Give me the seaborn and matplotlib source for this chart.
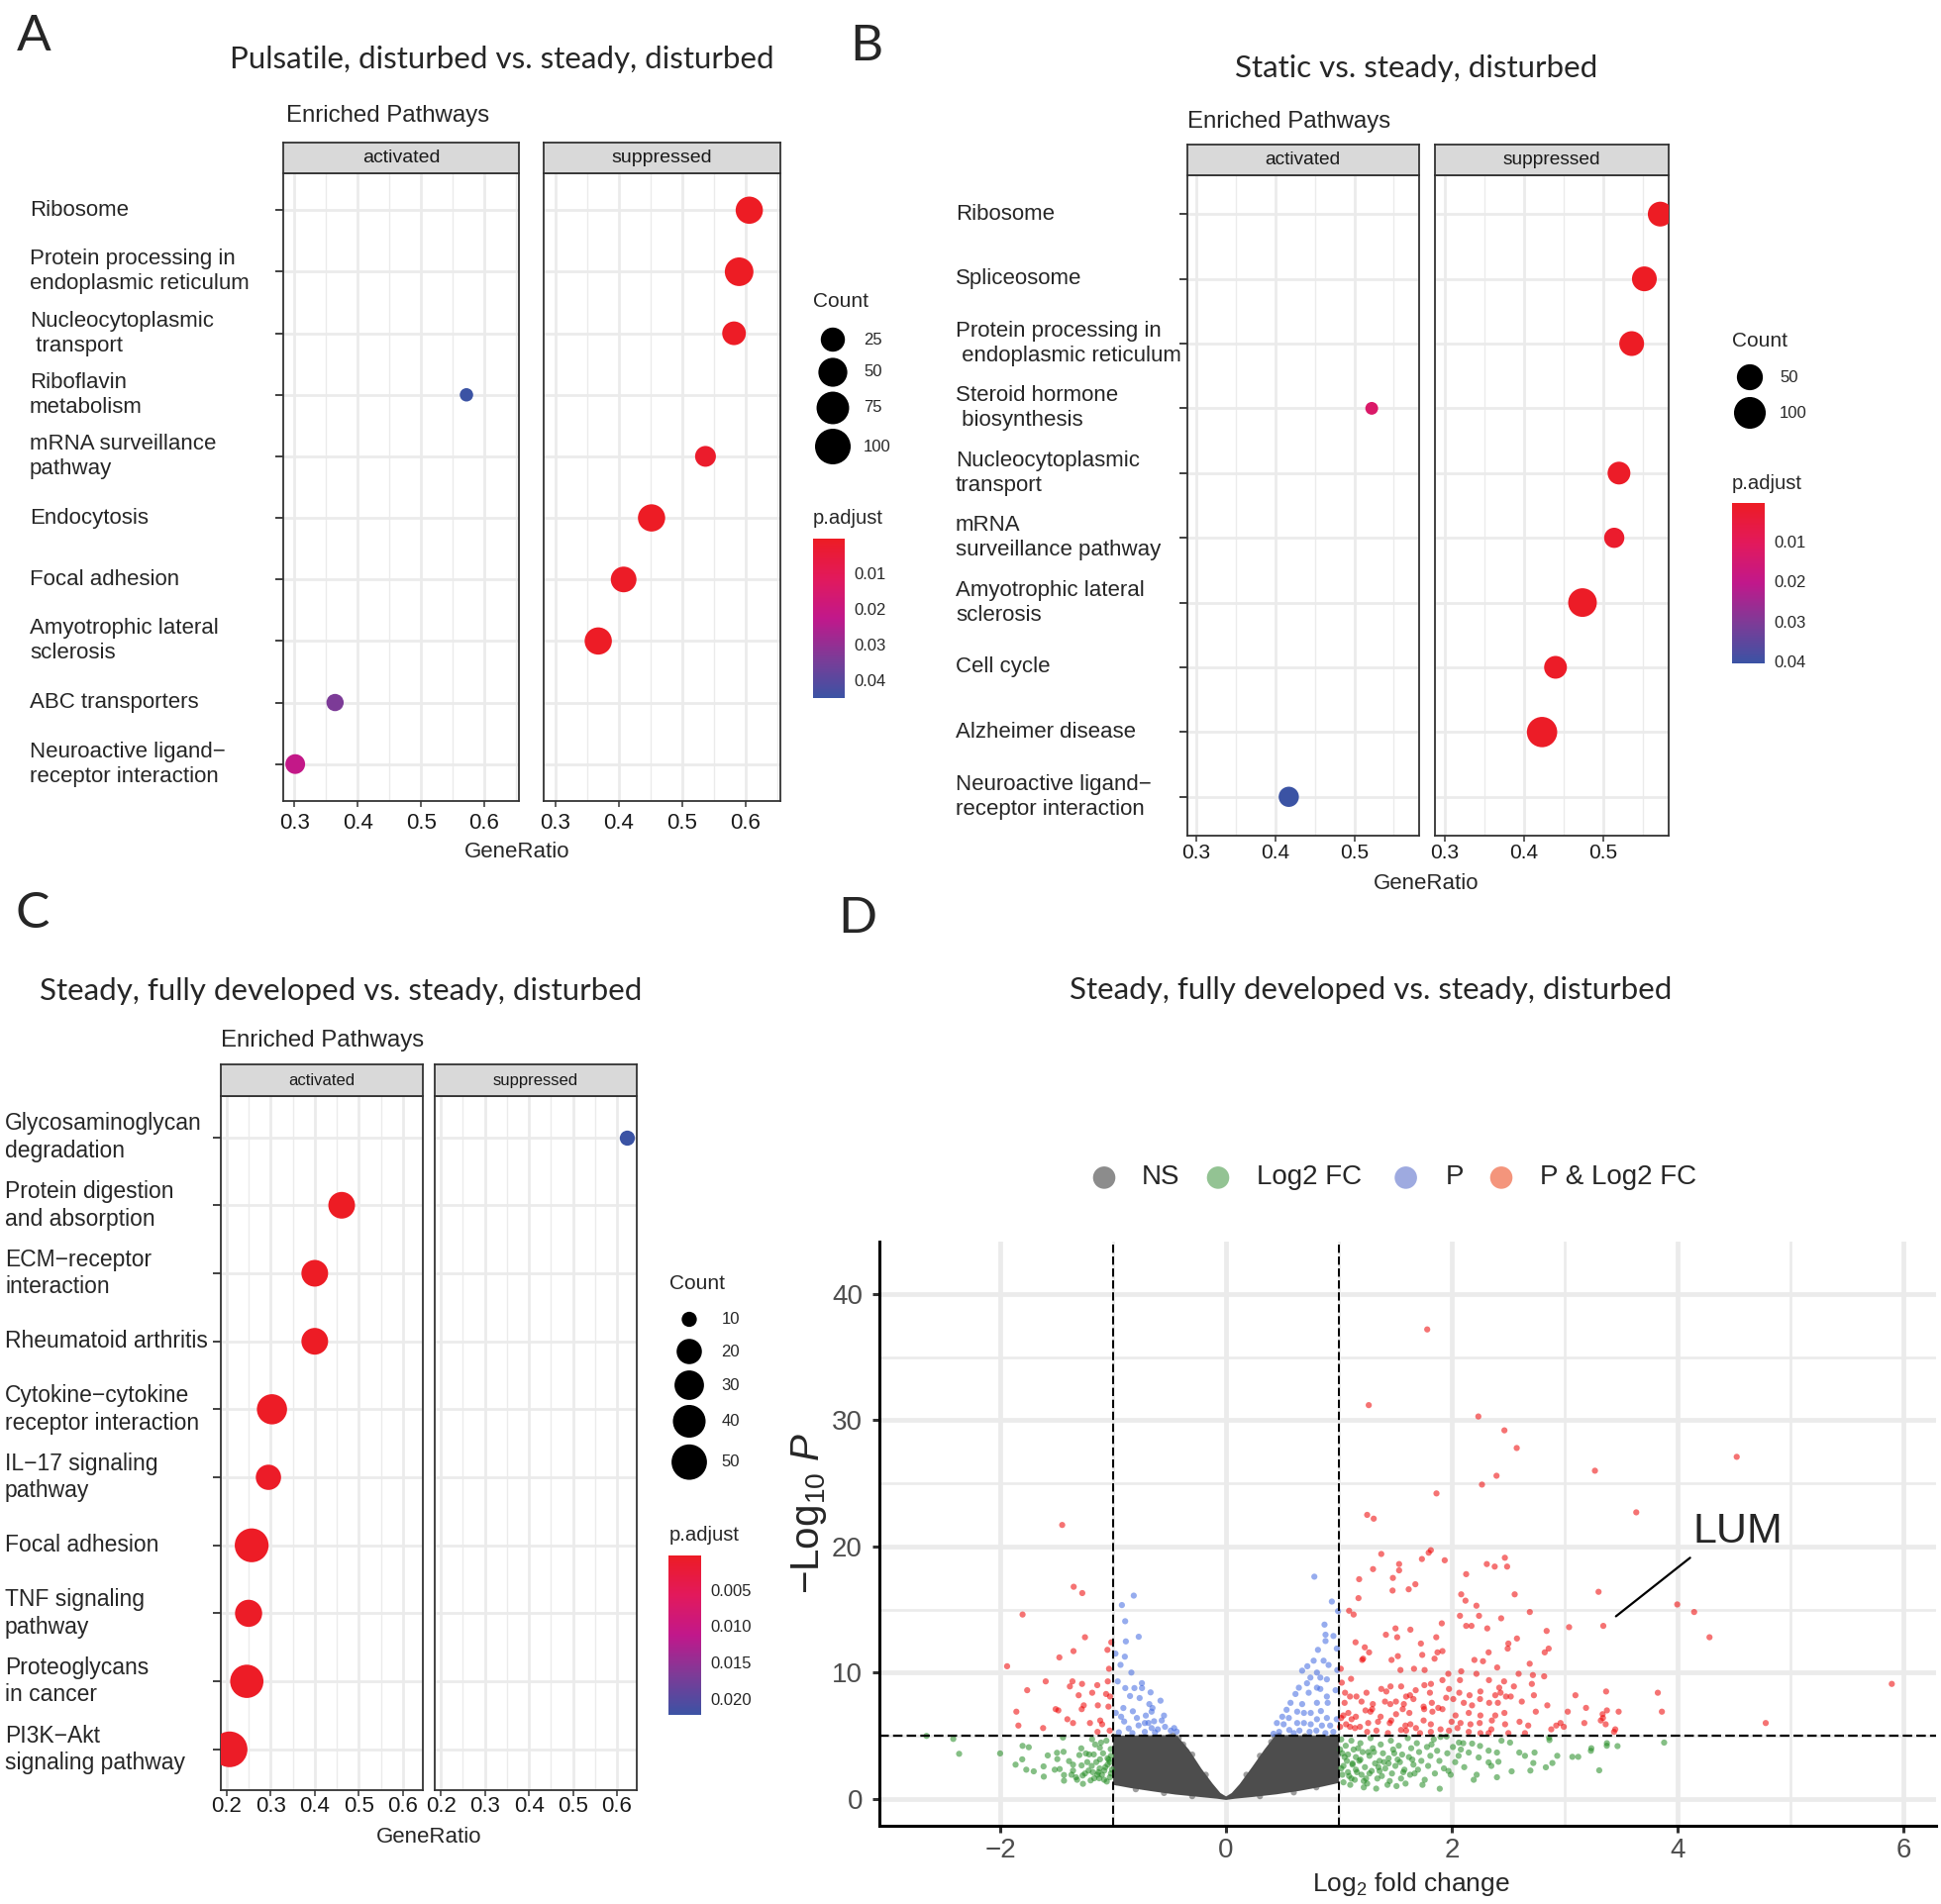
import numpy as np
import pandas as pd
import matplotlib
matplotlib.use("Agg")
import matplotlib.pyplot as plt
import matplotlib.transforms as mtransforms
from matplotlib.colors import LinearSegmentedColormap, Normalize
from matplotlib.cm import ScalarMappable
import seaborn as sns

# ---------------- panel A: pulsatile, disturbed vs. steady, disturbed ----------------
a_pathways = ["Ribosome", "Protein processing in\nendoplasmic reticulum", "Nucleocytoplasmic\n transport",
              "Riboflavin\nmetabolism", "mRNA surveillance\npathway", "Endocytosis", "Focal adhesion",
              "Amyotrophic lateral\nsclerosis", "ABC transporters", "Neuroactive ligand\u2212\nreceptor interaction"]
a_group = ["suppressed", "suppressed", "suppressed", "activated", "suppressed", "suppressed",
           "suppressed", "suppressed", "activated", "activated"]
a_ratio = [0.606, 0.590, 0.582, 0.572, 0.537, 0.452, 0.408, 0.368, 0.364, 0.301]
a_count = [40, 48, 23, 2, 13, 40, 32, 40, 5, 10]
a_padj = [0.0004, 0.0004, 0.0008, 0.045, 0.002, 0.0006, 0.001, 0.0008, 0.034, 0.022]

# ---------------- panel B: static vs. steady, disturbed ----------------
b_pathways = ["Ribosome", "Spliceosome", "Protein processing in\n endoplasmic reticulum",
              "Steroid hormone\n biosynthesis", "Nucleocytoplasmic\ntransport", "mRNA\nsurveillance pathway",
              "Amyotrophic lateral\nsclerosis", "Cell cycle", "Alzheimer disease",
              "Neuroactive ligand\u2212\nreceptor interaction"]
b_group = ["suppressed", "suppressed", "suppressed", "activated", "suppressed", "suppressed",
           "suppressed", "suppressed", "suppressed", "activated"]
b_ratio = [0.572, 0.552, 0.536, 0.522, 0.520, 0.514, 0.474, 0.440, 0.423, 0.417]
b_count = [42, 42, 42, 3, 30, 18, 71, 30, 86, 18]
b_padj = [0.0003, 0.0004, 0.0005, 0.013, 0.001, 0.002, 0.0008, 0.001, 0.0008, 0.0405]

# ---------------- panel C: steady, fully developed vs. steady, disturbed ----------------
c_pathways = ["Glycosaminoglycan\ndegradation", "Protein digestion\nand absorption", "ECM\u2212receptor\ninteraction",
              "Rheumatoid arthritis", "Cytokine\u2212cytokine\nreceptor interaction", "IL\u221217 signaling\npathway",
              "Focal adhesion", "TNF signaling\npathway", "Proteoglycans\nin cancer", "PI3K\u2212Akt\nsignaling pathway"]
c_group = ["suppressed"] + ["activated"] * 9
c_ratio = [0.623, 0.461, 0.400, 0.400, 0.303, 0.295, 0.257, 0.250, 0.246, 0.207]
c_count = [10, 23, 23, 23, 32, 20, 44, 24, 42, 51]
c_padj = [0.0223, 0.0002, 0.0003, 0.0003, 0.0004, 0.0006, 0.0004, 0.0005, 0.0004, 0.0005]

# ---------------- panel D: volcano ----------------
red_x = [-1.452, -1.350, -1.274, -1.803, -1.250, -1.017, -1.051, -1.352, -1.477, -1.940, -1.037, -1.598,
         -1.762, -1.361, -1.384, -1.276, -1.141, -1.048, -1.186, -1.306, -1.063, -1.028, -1.261, -1.136,
         -1.042, -1.510, -1.486, -1.279, -1.858, -1.406, -1.356, -1.840, -1.206, -1.115, -1.098, -1.621,
         -1.139, -1.031,
         1.782, 1.264, 2.235, 2.466, 2.575, 3.268, 4.524, 2.396, 2.267, 1.864, 1.250, 1.308, 3.634,
         1.814, 1.795, 1.375, 1.533, 1.533, 1.735, 1.937, 1.302, 1.179, 1.478, 1.677, 1.618, 1.475,
         1.173, 2.127, 2.310, 2.380, 2.470, 2.490, 2.557, 2.083, 2.121, 2.218, 3.300, 3.997, 4.147,
         4.283, 3.342, 1.090, 1.130, 2.072, 2.241, 2.437, 2.691, 2.314, 2.127, 2.174, 1.911, 3.039,
         2.840, 1.501, 1.633, 1.416, 1.516, 1.726, 1.862, 1.917, 1.873, 1.847, 1.147, 1.229, 1.267,
         1.214, 1.206, 1.738, 1.466, 1.522, 2.501, 2.495, 2.577, 2.326, 2.276, 2.200, 2.823, 2.858,
         2.402, 2.690, 1.545, 1.665, 1.759, 1.016, 1.969, 2.083, 2.218, 2.592, 2.718, 2.818, 1.025,
         1.107, 1.917, 2.072, 2.329, 2.463, 2.709, 1.757, 1.815, 1.975, 2.420, 1.375, 1.457, 1.551,
         1.630, 1.806, 1.595, 1.244, 1.155, 1.098, 1.054, 2.066, 2.157, 2.253, 2.385, 2.432, 2.522,
         2.727, 3.095, 3.367, 3.825, 5.898, 1.408, 1.455, 1.505, 1.575, 1.660, 1.823, 2.013, 2.106,
         2.179, 2.331, 2.408, 2.480, 2.846, 3.189, 3.374, 3.336, 1.235, 1.279, 1.294, 1.369, 1.506,
         1.565, 1.624, 1.755, 1.828, 1.917, 2.033, 2.150, 2.253, 2.385, 2.466, 2.744, 3.027, 1.083,
         1.039, 1.112, 1.998, 2.077, 2.165, 2.247, 2.355, 2.472, 1.259, 1.346, 1.463, 1.589, 1.633,
         1.682, 1.814, 1.063, 1.098, 1.142, 1.186, 2.677, 2.925, 2.963, 2.992, 3.174, 3.320, 3.363,
         2.881, 3.437, 1.332, 1.434, 1.595, 1.718, 1.814, 1.975, 2.253, 2.326, 2.501, 2.648, 3.478,
         3.861, 3.339, 3.448, 4.781, 1.30, 1.75, 1.95, 1.42, 1.20, 1.68, 1.88, 2.25, 2.62, 2.55, 1.05,
         1.15, 1.45, 1.75, 2.05, 2.35, 2.60, 1.90, 1.25, 1.55, 2.15, 1.01, 1.02]
red_y = [21.7, 16.8, 16.3, 14.6, 12.8, 12.4, 11.8, 11.7, 11.2, 10.5, 10.3, 9.3,
         8.6, 9.3, 8.9, 9.1, 9.0, 9.3, 8.4, 8.2, 8.3, 8.1, 7.4, 7.4,
         7.3, 7.1, 7.0, 7.1, 6.9, 6.3, 6.0, 5.8, 6.0, 6.2, 5.9, 5.6,
         5.3, 5.4,
         37.2, 31.2, 30.3, 29.2, 27.8, 26.0, 27.1, 25.6, 24.9, 24.2, 22.5, 22.2, 22.7,
         19.7, 19.5, 19.4, 18.6, 18.1, 19.0, 18.9, 18.2, 17.4, 17.5, 17.0, 16.6, 16.5,
         15.9, 17.8, 18.6, 18.4, 19.1, 18.4, 16.2, 16.2, 15.7, 15.3, 16.4, 15.4, 14.8,
         12.8, 13.7, 14.9, 14.6, 14.5, 14.5, 14.3, 14.8, 13.5, 13.7, 13.7, 13.9, 13.6,
         13.3, 13.5, 13.4, 13.0, 12.8, 12.3, 12.8, 11.7, 11.6, 11.1, 12.4, 12.0, 11.6,
         11.1, 11.0, 11.4, 11.0, 11.3, 12.3, 11.9, 12.7, 11.6, 10.9, 11.0, 11.6, 11.9,
         10.4, 10.7, 10.2, 10.3, 10.2, 10.3, 9.9, 10.1, 9.9, 9.9, 9.8, 9.7, 9.2,
         9.5, 9.4, 9.4, 9.4, 9.3, 9.1, 9.0, 9.1, 8.7, 8.8, 8.7, 8.9, 8.9,
         8.2, 8.4, 8.1, 8.4, 8.1, 8.1, 8.4, 8.4, 8.2, 8.5, 8.2, 8.4, 8.1,
         8.2, 8.2, 8.5, 8.4, 9.1, 7.7, 7.5, 7.7, 7.5, 7.9, 7.6, 7.9, 7.6,
         7.4, 7.6, 7.6, 8.1, 7.4, 7.2, 7.0, 6.7, 7.0, 6.9, 7.1, 6.5, 6.7,
         7.1, 6.8, 7.1, 6.9, 7.1, 6.6, 6.8, 6.6, 6.6, 6.8, 6.9, 6.9, 6.8,
         6.6, 6.3, 6.1, 6.0, 5.9, 6.0, 6.2, 5.9, 6.0, 6.1, 6.2, 5.8, 5.9,
         5.6, 5.9, 5.9, 5.7, 5.6, 5.7, 5.8, 5.8, 6.0, 5.7, 6.0, 6.2, 5.9,
         5.5, 5.3, 5.4, 5.2, 5.4, 5.2, 5.3, 5.4, 5.2, 5.2, 5.2, 5.2, 6.9,
         6.9, 6.4, 5.5, 6.0, 7.5, 7.3, 8.0, 8.5, 7.7, 8.6, 7.2, 7.9, 7.7, 8.9, 7.6,
         6.5, 6.0, 6.2, 5.6, 5.5, 6.1, 5.5, 5.3, 5.45, 5.3, 5.7, 6.4]

green_x = [-2.654, -2.417, -2.365, -2.002, -1.803, -1.748, -1.865, -1.806, -1.704, -1.617, -1.615, -1.580,
           -1.498, -1.440, -1.495, -1.518, -1.474, -1.436, -1.436, -1.445, -1.356, -1.356, -1.330, -1.283,
           -1.300, -1.242, -1.213, -1.280, -1.218, -1.268, -1.271, -1.187, -1.172, -1.118, -1.117, -1.108,
           -1.079, -1.057, -1.124, -1.168, -1.022, -1.020, -1.391, -1.370, -1.190, -1.100, -1.050, -1.150,
           -1.250, -1.030, -1.080, -1.200, -1.320, -1.060, -1.160, -1.010, -1.770, -1.040, -1.130,
           -1.03, -1.07, -1.12, -1.02, -1.09, -1.05, -1.14, -1.23, -1.18,
           1.900, 1.954, 2.063, 2.101, 2.180, 2.250, 2.440, 2.516, 2.598, 2.648, 2.733, 2.862, 2.865,
           2.934, 3.068, 3.120, 3.232, 3.373, 3.306, 2.891, 2.833, 2.696, 2.722, 2.326, 2.400, 2.413,
           2.326, 2.238, 2.150, 2.194, 2.400, 2.530, 1.893, 3.236, 3.374, 3.468, 3.881,
           1.02, 1.06, 1.03, 1.07, 1.02, 1.09, 1.04, 1.11, 1.13, 1.15, 1.12, 1.16, 1.14, 1.19, 1.21,
           1.18, 1.23, 1.20, 1.25, 1.28, 1.30, 1.27, 1.32, 1.29, 1.34, 1.37, 1.39, 1.36, 1.41, 1.38,
           1.43, 1.46, 1.48, 1.44, 1.50, 1.47, 1.53, 1.56, 1.54, 1.58, 1.55, 1.61, 1.64, 1.62, 1.66,
           1.63, 1.69, 1.71, 1.73, 1.70, 1.76, 1.78, 1.81, 1.79, 1.84, 1.87, 1.89, 1.93, 1.96, 2.01,
           2.03, 2.06, 2.11, 1.99, 1.85, 1.74, 1.59, 1.51, 1.33, 1.22, 1.10, 1.05, 1.08, 1.17, 1.26,
           1.35, 1.45, 1.52, 1.67, 1.82, 1.97, 2.08, 2.22, 2.35, 1.01, 1.12, 1.24,
           1.04, 1.08, 1.15, 1.19, 1.27, 1.31, 1.40, 1.49, 1.57, 1.65, 1.03, 1.11, 1.22, 1.36, 1.44]
green_y = [4.98, 4.74, 3.56, 3.59, 4.19, 4.08, 2.70, 3.12, 2.17, 2.56, 1.75, 3.43,
           3.64, 3.72, 3.14, 2.30, 2.35, 1.88, 1.43, 4.85, 2.70, 2.23, 1.70, 3.99,
           3.46, 3.59, 3.51, 2.64, 2.23, 1.18, 1.84, 4.71, 3.51, 4.04, 3.12, 4.45,
           2.23, 1.36, 1.62, 1.62, 3.93, 3.40, 2.98, 1.90, 2.60, 1.90, 2.70, 2.90,
           2.00, 1.70, 1.50, 1.45, 1.50, 4.60, 4.30, 2.30, 2.30, 3.10, 2.10,
           2.9, 2.5, 2.4, 2.0, 3.6, 3.2, 1.9, 2.9, 2.1,
           4.90, 4.93, 4.45, 4.40, 4.37, 4.18, 4.60, 4.45, 3.66, 3.40, 3.66, 4.85, 4.65,
           3.40, 3.32, 3.32, 3.80, 4.20, 2.25, 2.83, 2.49, 2.23, 2.83, 3.81, 3.66, 2.93,
           2.88, 3.27, 3.66, 1.50, 1.70, 2.17, 0.79, 4.00, 4.40, 4.17, 4.45,
           4.7, 4.2, 3.6, 3.0, 2.4, 1.8, 1.3, 4.6, 3.9, 3.3, 2.7, 2.1, 1.5, 4.4, 3.7,
           3.0, 2.5, 1.9, 1.2, 4.8, 4.0, 3.4, 2.8, 2.2, 1.6, 4.3, 3.6, 3.0, 2.4, 1.8,
           1.1, 4.6, 3.9, 3.2, 2.6, 2.0, 4.2, 3.5, 2.9, 2.3, 1.6, 4.8, 4.0, 3.3, 2.7,
           1.9, 4.4, 3.7, 3.0, 2.3, 1.5, 4.1, 3.4, 2.6, 4.7, 3.8, 3.0, 2.4, 3.6, 4.1,
           2.9, 3.4, 2.5, 1.9, 2.0, 1.1, 1.2, 1.0, 0.8, 0.9, 1.1, 3.3, 2.1, 4.0, 3.7,
           2.5, 1.4, 3.1, 2.0, 4.3, 2.2, 3.9, 1.9, 2.6, 3.9, 2.8, 1.6,
           2.6, 3.5, 2.3, 3.1, 2.0, 3.7, 2.9, 3.6, 2.1, 3.1, 1.9, 1.6, 1.4, 2.2, 2.8]

blue_x = [-0.818, -0.923, -0.894, -0.888, -0.774, -0.897, -0.935, -0.839, -0.746, -0.812, -0.893, -0.851,
          -0.766, -0.669, -0.581, -0.910, -0.826, -0.652, -0.711, -0.688, -0.638, -0.550, -0.977, -0.903,
          -0.862, -0.775, -0.605, -0.541, -0.950, -0.745, -0.680, -0.660, -0.438, -0.490, -0.720, -0.830,
          -0.630, -0.960, -0.980, -0.720, -0.790, -0.570, -0.660, -0.460, -0.930,
          0.782, 0.937, 0.992, 0.872, 0.881, 0.881, 0.951, 0.981, 0.814, 0.776, 0.864, 0.908, 0.720,
          0.674, 0.805, 0.747, 0.835, 0.893, 0.717, 0.645, 0.805, 0.835, 0.732, 0.893, 0.615, 0.571,
          0.674, 0.805, 0.900, 0.536, 0.630, 0.690, 0.750, 0.840, 0.498, 0.556, 0.805, 0.893, 0.450,
          0.510, 0.630, 0.690, 0.750, 0.849, 0.922, 0.470, 0.560, 0.650, 0.740, 0.800, 0.980, 0.970,
          0.985, 0.600, 0.420, 0.950, 0.880]
blue_y = [16.1, 15.35, 14.07, 12.47, 12.84, 11.26, 10.61, 10.0, 9.16, 8.77, 8.77, 8.14,
          7.98, 8.43, 7.77, 7.19, 6.93, 7.19, 6.59, 6.01, 6.14, 6.59, 6.80, 6.12,
          5.57, 5.81, 5.50, 5.70, 5.26, 8.77, 7.50, 6.90, 5.32, 5.40, 5.30, 5.20,
          5.25, 9.30, 11.5, 6.00, 6.40, 6.20, 5.60, 5.60, 6.50,
          17.6, 15.63, 14.87, 13.8, 13.0, 12.5, 12.9, 11.9, 11.8, 10.94, 10.94, 10.6, 10.5,
          10.15, 10.0, 9.6, 9.6, 9.46, 9.15, 8.8, 8.8, 8.7, 8.4, 8.1, 8.3, 7.6,
          7.5, 7.6, 7.6, 7.05, 6.9, 6.8, 6.8, 6.95, 6.5, 6.4, 6.3, 6.4, 6.0,
          5.9, 6.0, 6.0, 5.9, 5.8, 5.8, 5.3, 5.45, 5.4, 5.3, 5.4, 6.3, 8.6,
          10.2, 5.2, 5.15, 5.3, 5.2]

ns_x = [-0.98, -0.90, -0.75, -0.60, -0.50, -0.42, -0.38, -0.30, -0.18, 0.43, 0.55, 0.70, 0.85,
        0.97, 0.99, 0.98, -0.99, -0.97, -0.80, 0.80, 0.60, -0.55, 0.30, -0.30, 0.18, 0.30, 0.40,
        -0.47, 0.47, 0.92, 0.66, -0.86]
ns_y = [4.9, 4.6, 4.85, 4.7, 4.9, 4.8, 4.3, 3.5, 1.9, 4.9, 4.8, 4.95, 4.6,
        4.8, 3.5, 2.0, 2.5, 1.3, 0.75, 0.9, 0.5, 0.45, 0.2, 0.2, 1.9, 3.4, 4.5,
        5.0, 5.0, 3.2, 2.7, 3.9]

# outline of the saturated NS cloud (thousands of overlapping grey points)
ns_cloud_x = [-1.0, -0.44, -0.33, -0.22, -0.12, -0.05, 0.0, 0.05, 0.12, 0.23, 0.34, 0.44, 1.0, 1.0,
              0.85, 0.65, 0.45, 0.25, 0.08, 0.0, -0.08, -0.25, -0.45, -0.65, -0.85, -1.0]
ns_cloud_y = [5.0, 5.05, 3.9, 2.4, 1.2, 0.45, 0.18, 0.45, 1.15, 2.5, 3.9, 5.05, 5.0, 1.25,
              0.95, 0.62, 0.35, 0.15, 0.0, -0.1, 0.0, 0.15, 0.33, 0.58, 0.85, 1.1]

vol_groups = ["NS", "Log2 FC", "P", "P & Log2 FC"]
vol_colors = {"NS": "#4D4D4D", "Log2 FC": "#228B22", "P": "#4169E1", "P & Log2 FC": "#EE0000"}
vol_key_colors = ["#8C8C8C", "#93C393", "#9EAAE0", "#F4957C"]

# ---------------- figure setup ----------------
W, H = 1960, 1923
sns.set_theme(style="white")
plt.rcParams["font.family"] = ["Liberation Sans", "DejaVu Sans"]
plt.rcParams["mathtext.fontset"] = "custom"
plt.rcParams["mathtext.rm"] = "Liberation Sans"
plt.rcParams["mathtext.it"] = "Liberation Sans:italic"
TITLE_FONT = ["Lato", "Liberation Sans", "DejaVu Sans"]
CMAP = LinearSegmentedColormap.from_list(
    "padj", ["#ED1C24", "#E2195C", "#C1188B", "#7D3B97", "#3B53A4"])

fig = plt.figure(figsize=(W / 100, H / 100), dpi=100)
overlay = fig.add_axes([0, 0, 1, 1])
overlay.set_xlim(0, W)
overlay.set_ylim(H, 0)
overlay.axis("off")
overlay.set_autoscale_on(False)


def px_rect(x0, y0, x1, y1):
    return [x0 / W, 1 - y1 / H, (x1 - x0) / W, (y1 - y0) / H]


def dot_area(count, lo, hi, unit):
    frac = np.clip((np.asarray(count, dtype=float) - lo) / (hi - lo), 0, 1)
    d = unit * (3 + 5 * np.sqrt(frac)) * 0.72
    return d * d


def dotplot(pathways, group, ratio, count, padj, lay):
    n = len(pathways)
    df = pd.DataFrame({"Description": pathways, "group": group, "GeneRatio": ratio,
                       "Count": count, "p.adjust": padj})
    df["pos"] = np.arange(n)
    norm = Normalize(df["p.adjust"].min(), df["p.adjust"].max())
    sizes = {c: float(dot_area(c, *lay["size"])) for c in df["Count"].unique()}
    axes = []
    for grp, (x0, x1) in zip(["activated", "suppressed"], lay["cols"]):
        ax = fig.add_axes(px_rect(x0, lay["top"], x1, lay["bottom"]))
        sub = df[df["group"] == grp]
        sns.scatterplot(data=sub, x="GeneRatio", y="pos", hue="p.adjust", size="Count",
                        palette=CMAP, hue_norm=norm, sizes=sizes, legend=False,
                        linewidth=0, ax=ax, zorder=3)
        ax.set_xlim(*lay["xlim"])
        ax.set_ylim(n - 1 + 0.6, -0.6)
        ax.set_xticks(lay["xticks"])
        ax.set_xticklabels([f"{t:.1f}" for t in lay["xticks"]], fontsize=lay["tick_fs"], color="#1a1a1a")
        ax.set_xticks(lay["minor"], minor=True)
        ax.set_yticks(range(n))
        ax.set_yticklabels([])
        ax.set_xlabel("")
        ax.set_ylabel("")
        ax.grid(True, which="major", color="#EBEBEB", lw=2.0)
        ax.grid(True, which="minor", axis="x", color="#EBEBEB", lw=1.0)
        ax.set_axisbelow(True)
        for sp in ax.spines.values():
            sp.set_color("#333333")
            sp.set_linewidth(1.3)
        ax.tick_params(axis="x", which="major", bottom=True, length=4, width=1.1,
                       color="#333333", pad=lay["tick_pad"])
        ax.tick_params(axis="y", which="major", left=(grp == "activated"), length=6,
                       width=1.3, color="#333333")
        ax.tick_params(which="minor", length=0)
        # facet strip
        st = fig.add_axes(px_rect(x0, lay["strip"], x1, lay["top"]))
        st.set_facecolor("#D9D9D9")
        st.set_xticks([])
        st.set_yticks([])
        for sp in st.spines.values():
            sp.set_color("#333333")
            sp.set_linewidth(1.3)
        st.text(0.5, 0.5, grp, ha="center", va="center", fontsize=lay["strip_fs"],
                color="#1a1a1a", transform=st.transAxes)
        axes.append(ax)

    trans = mtransforms.blended_transform_factory(overlay.transData, axes[0].transData)
    for i, p in enumerate(pathways):
        axes[0].text(lay["label_x"], i, p, transform=trans, ha="left", va="center",
                     fontsize=lay["label_fs"], linespacing=1.25, clip_on=False)

    # titles
    lx, ly, letter = lay["letter"]
    overlay.text(lx, ly, letter, ha="center", va="center", fontsize=37, family=TITLE_FONT)
    tx, ty, title = lay["title"]
    overlay.text(tx, ty, title, ha="center", va="center", fontsize=22.5, family=TITLE_FONT)
    overlay.text(lay["sub"][0], lay["sub"][1], "Enriched Pathways", ha="left", va="center", fontsize=17.3)
    overlay.text(lay["gene"][0], lay["gene"][1], "GeneRatio", ha="center", va="center", fontsize=16)

    # Count legend
    overlay.text(lay["count"][0], lay["count"][1], "Count", ha="left", va="center", fontsize=15)
    brk = lay["breaks"]
    overlay.scatter([lay["dot_x"]] * len(brk), lay["dot_y"], s=dot_area(brk, *lay["size"]),
                    color="black", linewidth=0)
    for b, yy in zip(brk, lay["dot_y"]):
        overlay.text(lay["num_x"], yy, str(b), ha="left", va="center", fontsize=12)

    # p.adjust colourbar
    overlay.text(lay["padj"][0], lay["padj"][1], "p.adjust", ha="left", va="center", fontsize=14.6)
    cax = fig.add_axes(px_rect(*lay["cbar"]))
    cb = fig.colorbar(ScalarMappable(norm=norm, cmap=CMAP), cax=cax, ticks=lay["cbar_ticks"])
    cb.outline.set_visible(False)
    cax.invert_yaxis()
    cax.set_yticklabels([lay["cbar_fmt"].format(t) for t in lay["cbar_ticks"]])
    cax.tick_params(left=True, right=True, labelleft=False, labelright=True, direction="in",
                    color="white", length=5, width=1, labelsize=12, pad=7)


A_LAY = dict(cols=[(286, 524), (549, 788)], strip=143.5, top=175, bottom=809,
             xlim=(0.282, 0.655), xticks=[0.3, 0.4, 0.5, 0.6], minor=[0.35, 0.45, 0.55, 0.65],
             label_x=30, label_fs=16, tick_fs=16, tick_pad=4.5, strip_fs=14, size=(2, 100, 4.5),
             breaks=[25, 50, 75, 100], cbar_ticks=[0.01, 0.02, 0.03, 0.04], cbar_fmt="{:.2f}",
             gene=(522, 861), sub=(289, 117), title=(507, 60, "Pulsatile, disturbed vs. steady, disturbed"),
             letter=(34, 37, "A"), count=(821, 305), dot_x=841, dot_y=[343, 376, 412, 451], num_x=872,
             padj=(821, 523.5), cbar=(821, 544, 852.5, 705))
B_LAY = dict(cols=[(1198.5, 1433), (1449, 1684.5)], strip=146, top=177, bottom=844,
             xlim=(0.288, 0.582), xticks=[0.3, 0.4, 0.5], minor=[0.35, 0.45, 0.55],
             label_x=965, label_fs=16, tick_fs=15, tick_pad=2, strip_fs=13.8, size=(3, 125, 4.3),
             breaks=[50, 100], cbar_ticks=[0.01, 0.02, 0.03, 0.04], cbar_fmt="{:.2f}",
             gene=(1440, 893), sub=(1199, 123), title=(1430, 69, "Static vs. steady, disturbed"),
             letter=(875, 47, "B"), count=(1749, 344), dot_x=1767, dot_y=[381, 417], num_x=1797,
             padj=(1749, 488), cbar=(1749, 508, 1781.5, 670))
C_LAY = dict(cols=[(222.5, 427), (439, 643)], strip=1075, top=1107.4, bottom=1808,
             xlim=(0.186, 0.645), xticks=[0.2, 0.3, 0.4, 0.5, 0.6], minor=[0.25, 0.35, 0.45, 0.55],
             label_x=5, label_fs=16.5, tick_fs=16, tick_pad=0.5, strip_fs=12, size=(10, 72, 5.1),
             breaks=[10, 20, 30, 40, 50], cbar_ticks=[0.005, 0.010, 0.015, 0.020], cbar_fmt="{:.3f}",
             gene=(432.7, 1855.6), sub=(222.5, 1050.7),
             title=(344, 1001, "Steady, fully developed vs. steady, disturbed"),
             letter=(33, 923, "C"), count=(676, 1296), dot_x=696,
             dot_y=[1332.5, 1365, 1399, 1435.5, 1476.7], num_x=728.6,
             padj=(676, 1550), cbar=(675, 1570.6, 707.6, 1732.4))

dotplot(a_pathways, a_group, a_ratio, a_count, a_padj, A_LAY)
dotplot(b_pathways, b_group, b_ratio, b_count, b_padj, B_LAY)
dotplot(c_pathways, c_group, c_ratio, c_count, c_padj, C_LAY)

# ---------------- panel D: volcano ----------------
vdf = pd.concat([
    pd.DataFrame({"log2FC": ns_x, "nlogP": ns_y, "group": "NS"}),
    pd.DataFrame({"log2FC": green_x, "nlogP": green_y, "group": "Log2 FC"}),
    pd.DataFrame({"log2FC": blue_x, "nlogP": blue_y, "group": "P"}),
    pd.DataFrame({"log2FC": red_x, "nlogP": red_y, "group": "P & Log2 FC"}),
], ignore_index=True)

axD = fig.add_axes(px_rect(887.6, 1253.5, 1955, 1843.8))
axD.fill(ns_cloud_x, ns_cloud_y, color="#4D4D4D", lw=0, zorder=2)
sns.scatterplot(data=vdf, x="log2FC", y="nlogP", hue="group", hue_order=vol_groups,
                palette=vol_colors, s=20, alpha=0.55, linewidth=0, legend=False, ax=axD, zorder=3)
axD.set_xlim(-3.075, 6.29)
axD.set_ylim(-2.13, 44.2)
axD.set_xticks([-2, 0, 2, 4, 6])
axD.set_xticks([-1, 1, 3, 5], minor=True)
axD.set_yticks([0, 10, 20, 30, 40])
axD.set_yticks([5, 15, 25, 35], minor=True)
axD.grid(True, which="major", color="#EBEBEB", lw=3.4)
axD.grid(True, which="minor", color="#EBEBEB", lw=1.9)
axD.set_axisbelow(True)
axD.set_xlabel("")
axD.set_ylabel("")
for side in ["top", "right"]:
    axD.spines[side].set_visible(False)
for side in ["left", "bottom"]:
    axD.spines[side].set_color("black")
    axD.spines[side].set_linewidth(2.2)
axD.tick_params(which="major", length=5, width=2.2, color="#333333", labelsize=20,
                labelcolor="#4D4D4D", left=True, bottom=True)
axD.tick_params(axis="y", which="major", pad=7)
axD.tick_params(axis="x", which="major", pad=3.6)
axD.tick_params(which="minor", length=0)
for xv in [-1, 1]:
    axD.axvline(xv, color="black", lw=1.4, dashes=(4.3, 1.9), zorder=4)
axD.axhline(5, color="black", lw=1.6, dashes=(4.3, 1.9), zorder=4)

# LUM label
axD.plot([3.454, 4.111], [14.46, 19.1], color="black", lw=1.6, zorder=5)
axD.text(4.53, 21.2, "LUM", ha="center", va="center", fontsize=31, zorder=5)

overlay.text(866, 928, "D", ha="center", va="center", fontsize=37, family=TITLE_FONT)
overlay.text(1384, 1000, "Steady, fully developed vs. steady, disturbed", ha="center", va="center",
             fontsize=22.5, family=TITLE_FONT)
overlay.text(817, 1528, r"$-\mathrm{Log}_{10}\ \mathit{P}$", ha="center", va="center", rotation=90,
             fontsize=29)
overlay.text(1425, 1903, r"$\mathrm{Log}_{2}$ fold change", ha="center", va="center", fontsize=19)

key_x = [1115, 1230, 1419.6, 1516]
lab_x = [1152.5, 1269, 1459.5, 1555]
overlay.scatter(key_x, [1189.4] * 4, s=265, color=vol_key_colors, linewidth=0)
for g, lx in zip(vol_groups, lab_x):
    overlay.text(lx, 1189.4, g, ha="left", va="center", fontsize=20)

fig.savefig("out.png", dpi=100)
